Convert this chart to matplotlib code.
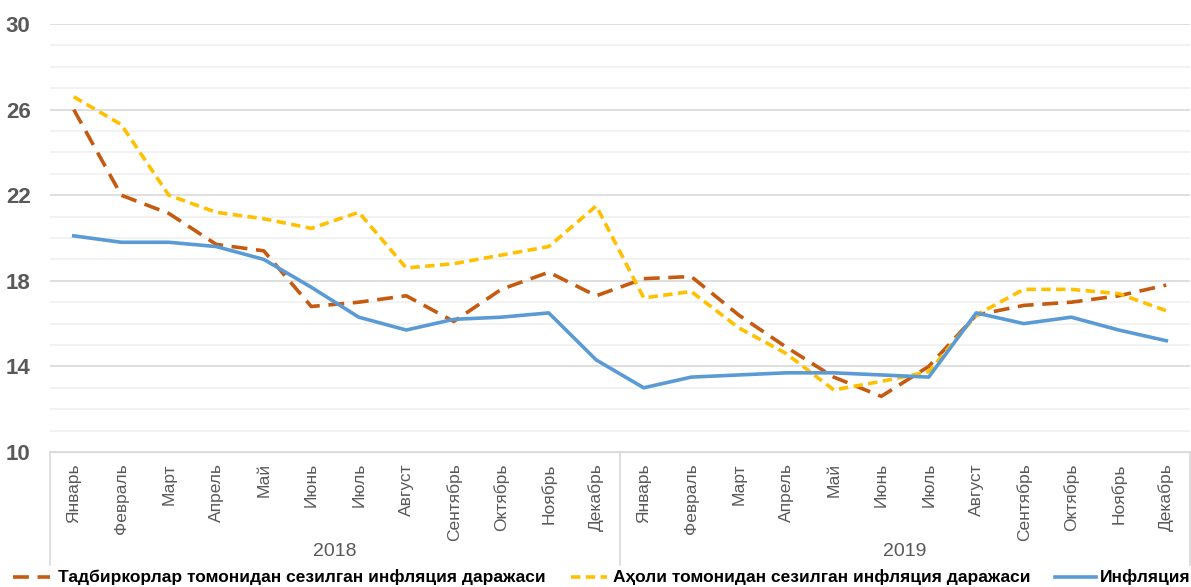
import matplotlib
matplotlib.use("Agg")
import matplotlib.pyplot as plt
from matplotlib.lines import Line2D
import numpy as np

months = ["Январь", "Февраль", "Март", "Апрель", "Май", "Июнь", "Июль",
          "Август", "Сентябрь", "Октябрь", "Ноябрь", "Декабрь"]
years = ["2018", "2019"]

business = [26.0, 22.0, 21.15, 19.7, 19.4, 16.8, 17.0, 17.3, 16.1, 17.6, 18.4, 17.3,
            18.1, 18.2, 16.4, 14.9, 13.5, 12.6, 14.0, 16.4, 16.85, 17.0, 17.3, 17.8]
population = [26.6, 25.3, 22.0, 21.2, 20.9, 20.45, 21.2, 18.6, 18.8, 19.2, 19.6, 21.5,
              17.2, 17.5, 15.8, 14.6, 12.9, 13.3, 13.75, 16.4, 17.6, 17.6, 17.4, 16.6]
inflation = [20.1, 19.8, 19.8, 19.6, 19.0, 17.7, 16.3, 15.7, 16.2, 16.3, 16.5, 14.3,
             13.0, 13.5, 13.6, 13.7, 13.7, 13.6, 13.5, 16.5, 16.0, 16.3, 15.7, 15.2]

labels = ["Тадбиркорлар томонидан сезилган инфляция даражаси",
          "Аҳоли томонидан сезилган инфляция даражаси",
          "Инфляция"]
colors = ["#C55A11", "#FFC000", "#5B9BD5"]
dash_styles = [(4.4, 2.4), (2.6, 1.5), None]

plt.rcParams["font.family"] = ["Liberation Sans", "DejaVu Sans"]

W, H = 1191, 587
fig = plt.figure(figsize=(W / 100, H / 100), dpi=100)
ax = fig.add_axes([50 / W, 1 - 452 / H, 1140 / W, 428 / H])

x = np.arange(len(inflation))
for series, c, d in zip([business, population, inflation], colors, dash_styles):
    kw = {"dashes": d} if d else {}
    ax.plot(x, series, color=c, lw=2.6, **kw)

ax.set_xlim(-0.5, len(x) - 0.5)
ax.set_ylim(10, 30)
ax.set_yticks(np.arange(10, 31, 4))
ax.set_yticks(np.arange(10, 31, 1), minor=True)
ax.grid(axis="y", which="major", color="#D9D9D9", lw=1.2)
ax.grid(axis="y", which="minor", color="#F0F0F0", lw=1.2)
ax.set_axisbelow(True)
for s in ["top", "right", "left"]:
    ax.spines[s].set_visible(False)
ax.spines["bottom"].set_color("#D9D9D9")
ax.tick_params(axis="y", which="both", length=0, pad=14, labelsize=16,
               labelcolor="#595959")
for t in ax.get_yticklabels():
    t.set_fontweight("bold")

ax.set_xticks(x)
ax.set_xticklabels(months * len(years), rotation=90, fontsize=12.5, color="#595959",
                   va="top")
ax.tick_params(axis="x", length=0, pad=8)

# year groups and separators
trans = ax.get_xaxis_transform()
for i, yr in enumerate(years):
    ax.text(i * 12 + 5.5, -0.232, yr, transform=trans, ha="center", va="center",
            fontsize=14, color="#595959")
for i in range(len(years) + 1):
    ax.plot([i * 12 - 0.5] * 2, [0, -0.265], transform=trans, color="#D9D9D9",
            lw=1.2, clip_on=False)

# legend drawn by hand so it fits the narrow width of the original
ly = 1 - 577 / H
handle_x = [(13, 50), (571, 607), (1055, 1096)]
text_x = [58, 613, 1100]
renderer = fig.canvas.get_renderer()
probe = fig.text(0, 0, labels[0], fontsize=17, fontweight="bold")
w = probe.get_window_extent(renderer).width
probe.remove()
fsize = 17 * 487 / w
for lab, c, d, (h0, h1), tx in zip(labels, colors, dash_styles, handle_x, text_x):
    kw = {"dashes": d} if d else {}
    fig.add_artist(Line2D([h0 / W, h1 / W], [ly, ly], color=c, lw=2.6, **kw))
    fig.text(tx / W, ly, lab, fontsize=fsize, fontweight="bold", color="black",
             ha="left", va="center")

fig.savefig("out.png", dpi=100)
